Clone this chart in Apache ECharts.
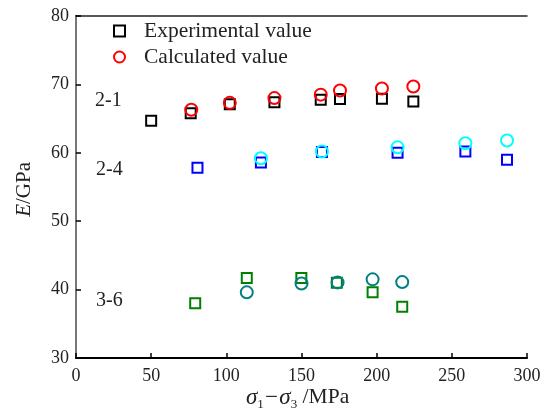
<!DOCTYPE html>
<html><head><meta charset="utf-8">
<script src="https://cdn.jsdelivr.net/npm/echarts@6/dist/echarts.min.js"></script>
<style>html,body{margin:0;padding:0;background:#fff}#c{width:545px;height:415px}</style>
</head><body><div id="c"></div>
<script>
// Data
const x21 = [50, 76.3, 102.3, 132, 162.8, 175.6, 203.5, 224.4];
const exp21 = [64.7, 65.8, 67.1, 67.4, 67.75, 67.85, 67.9, 67.5];
const calX21 = [76.7, 102.3, 132, 162.8, 175.6, 203.5, 224.4];
const cal21 = [66.3, 67.3, 68.0, 68.5, 69.1, 69.4, 69.7];

const x24 = [80.8, 123, 163.6, 213.9, 259, 286.7];
const exp24 = [57.8, 58.6, 60.1, 60.0, 60.2, 59.0];
const calX24 = [123, 163.6, 213.9, 259, 286.7];
const cal24 = [59.2, 60.2, 60.8, 61.4, 61.8];

const x36 = [79.3, 113.6, 149.9, 173.5, 197.3, 217];
const exp36 = [38.0, 41.7, 41.7, 41.0, 39.6, 37.5];
const calX36 = [113.6, 150, 174, 197.3, 217];
const cal36 = [39.6, 40.9, 41.05, 41.5, 41.1];

const xTicks = [0, 50, 100, 150, 200, 250, 300];
const yTicks = [30, 40, 50, 60, 70, 80];
const groupLabels = ['2-1', '2-4', '3-6'];
const legendNames = ['Experimental value', 'Calculated value'];

const FONT = 'Liberation Serif';
const zip = (xs, ys) => xs.map((v, i) => [v, ys[i]]);

function sq(name, data, color) {
  return { name, type: 'scatter', data, symbol: 'rect', symbolSize: 10,
    itemStyle: { color: 'rgba(0,0,0,0)', borderColor: color, borderWidth: 2, opacity: 1 }, z: 2 };
}
function ci(name, data, color) {
  return { name, type: 'scatter', data, symbol: 'circle', symbolSize: 12,
    itemStyle: { color: 'rgba(0,0,0,0)', borderColor: color, borderWidth: 2, opacity: 1 }, z: 3 };
}

const chart = echarts.init(document.getElementById('c'), null, { renderer: 'canvas' });
chart.setOption({
  animation: false,
  backgroundColor: '#fff',
  textStyle: { fontFamily: FONT },
  grid: { left: 76, right: 18, top: 16, bottom: 57 },
  legend: {
    data: legendNames, orient: 'vertical', left: 108, top: 15, itemWidth: 11, itemHeight: 11,
    itemGap: 4, textStyle: { fontFamily: FONT, fontSize: 21.5, color: '#222', padding: [0, 0, 0, 14] }
  },
  xAxis: [{
    type: 'value', min: xTicks[0], max: xTicks[xTicks.length - 1], interval: 50,
    axisLine: { lineStyle: { color: '#000', width: 2 } },
    axisTick: { inside: true, length: 5, lineStyle: { color: '#000', width: 1.5 } },
    axisLabel: { fontFamily: FONT, fontSize: 18, color: '#222', margin: 9 },
    splitLine: { show: false }
  }, {
    type: 'value', position: 'top', min: 0, max: 300,
    axisLine: { show: true, lineStyle: { color: '#222', width: 1.5 } },
    axisTick: { show: false }, axisLabel: { show: false }, splitLine: { show: false }
  }],
  yAxis: [{
    type: 'value', min: yTicks[0], max: yTicks[yTicks.length - 1], interval: 10,
    axisLine: { show: true, lineStyle: { color: '#000', width: 2 } },
    axisTick: { inside: true, length: 5, lineStyle: { color: '#000', width: 1.5 } },
    axisLabel: { fontFamily: FONT, fontSize: 18, color: '#222', margin: 7 },
    splitLine: { show: false }
  }, {
    type: 'value', position: 'right', min: 30, max: 80,
    axisLine: { show: true, lineStyle: { color: '#777', width: 2 } },
    axisTick: { show: false }, axisLabel: { show: false }, splitLine: { show: false }
  }],
  series: [
    sq(legendNames[0], zip(x21, exp21), '#000'),
    ci(legendNames[1], zip(calX21, cal21), '#ff0000'),
    sq('exp 2-4', zip(x24, exp24), '#0000ff'),
    ci('cal 2-4', zip(calX24, cal24), '#00ffff'),
    sq('exp 3-6', zip(x36, exp36), '#008000'),
    ci('cal 3-6', zip(calX36, cal36), '#008080')
  ],
  graphic: [
    { type: 'text', left: 95, top: 91, style: { text: groupLabels[0], font: '20px ' + FONT, fill: '#222' } },
    { type: 'text', left: 96, top: 160, style: { text: groupLabels[1], font: '20px ' + FONT, fill: '#222' } },
    { type: 'text', left: 96, top: 291, style: { text: groupLabels[2], font: '20px ' + FONT, fill: '#222' } },
    { type: 'text', left: 14, top: 162, rotation: Math.PI / 2,
      style: {
        text: '{i|E}{n|/GPa}',
        rich: { i: { fontFamily: FONT, fontStyle: 'italic', fontSize: 21, fill: '#222' },
                n: { fontFamily: FONT, fontSize: 21, fill: '#222' } }
      } },
    { type: 'text', left: 246, top: 386,
      style: {
        text: '{s|σ}{b|1}{m|−σ}{b|3}{n| /MPa}',
        rich: {
          s: { fontFamily: FONT, fontStyle: 'italic', fontSize: 23, fill: '#222', lineHeight: 28 },
          m: { fontFamily: FONT, fontStyle: 'italic', fontSize: 23, fill: '#222', lineHeight: 28 },
          b: { fontFamily: FONT, fontSize: 13, fill: '#222', lineHeight: 8, verticalAlign: 'bottom' },
          n: { fontFamily: FONT, fontSize: 21.5, fill: '#222', lineHeight: 28 }
        }
      } }
  ]
});
</script></body></html>
